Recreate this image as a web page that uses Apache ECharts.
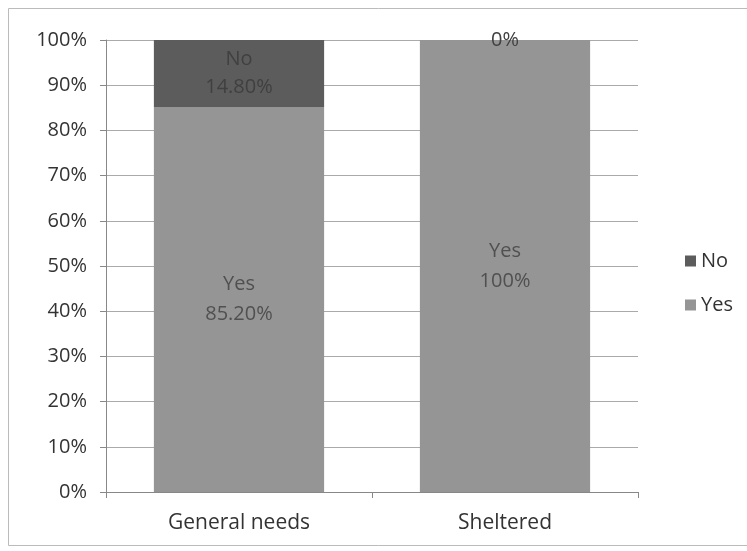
<!DOCTYPE html>
<html><head><meta charset="utf-8">
<script src="https://cdn.jsdelivr.net/npm/echarts@6/dist/echarts.min.js"></script>
<style>html,body{margin:0;padding:0;background:#fff}#c{width:747px;height:551px}</style>
</head><body><div id="c"></div>
<script>
const categories = ['General needs', 'Sheltered'];
const yesValues = [85.2, 100];
const noValues = [14.8, 0];
const yesLabels = ['Yes\n85.20%', 'Yes\n100%'];
const noLabels = ['No\n14.80%', '0%'];
const yTicks = [0, 10, 20, 30, 40, 50, 60, 70, 80, 90, 100];

const font = 'Open Sans';
const chart = echarts.init(document.getElementById('c'));
chart.setOption({
  animation: false,
  graphic: [{type: 'rect', shape: {x: 8.5, y: 8.5, width: 745, height: 537}, style: {fill: 'none', stroke: '#bbb', lineWidth: 1}, silent: true}],
  grid: {left: 106, right: 109, top: 40, bottom: 59, containLabel: false},
  legend: {
    orient: 'vertical', left: 680, top: 246, itemGap: 24, itemWidth: 11, itemHeight: 11,
    icon: 'rect', textStyle: {fontFamily: font, fontSize: 20, color: '#333'},
    data: ['No', 'Yes']
  },
  xAxis: {
    type: 'category', data: categories,
    axisLine: {lineStyle: {color: '#888'}},
    axisTick: {show: true, length: 6, lineStyle: {color: '#888'}},
    axisLabel: {fontFamily: font, fontSize: 21, color: '#333', margin: 21}
  },
  yAxis: {
    type: 'value', min: 0, max: 100, interval: 10,
    axisLine: {show: true, lineStyle: {color: '#888'}},
    axisTick: {show: true, length: 6, lineStyle: {color: '#888'}},
    splitLine: {lineStyle: {color: '#aaa'}},
    axisLabel: {fontFamily: font, fontSize: 20, color: '#333', margin: 19, formatter: v => v + '%'}
  },
  series: [
    {
      name: 'Yes', type: 'bar', stack: 's', barWidth: '64%', data: yesValues,
      itemStyle: {color: '#959595'},
      label: {show: true, position: 'inside', fontFamily: font, fontSize: 20, color: '#505050', lineHeight: 30,
        formatter: p => yesLabels[p.dataIndex]}
    },
    {
      name: 'No', type: 'bar', stack: 's', barWidth: '64%', data: noValues,
      itemStyle: {color: '#5c5c5c'},
      label: {show: true, position: 'inside', fontFamily: font, fontSize: 20, color: '#404040', lineHeight: 28,
        formatter: p => noLabels[p.dataIndex]}
    }
  ]
});
</script></body></html>
